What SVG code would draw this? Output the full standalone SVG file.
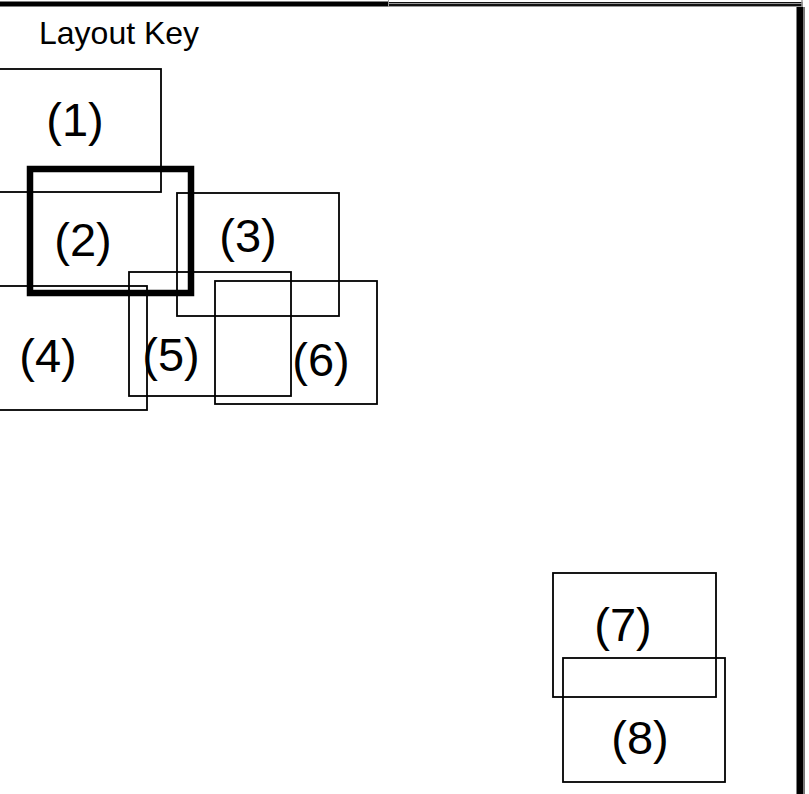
<svg xmlns="http://www.w3.org/2000/svg" width="809" height="794" viewBox="0 0 809 794">
<style>
.box{fill:none;stroke:#000;stroke-width:1.8}
.thick{fill:none;stroke:#000;stroke-width:6.5}
.lbl{font-family:"Liberation Sans",Arial,sans-serif;font-size:47px;fill:#000;text-anchor:middle}
.title{font-family:"Liberation Sans",Arial,sans-serif;font-size:32px;fill:#000}
</style>
<rect width="809" height="794" fill="#fff"/>
<g id="frame">
<rect x="0" y="1.5" width="389" height="5" fill="#000"/>
<rect x="388.5" y="2" width="414" height="5" fill="#111"/>
<line x1="388.5" y1="3.5" x2="802" y2="3.5" stroke="#999" stroke-width="1"/>
<line x1="388.5" y1="6.5" x2="802" y2="6.5" stroke="#999" stroke-width="1"/>
<line x1="388.5" y1="0" x2="388.5" y2="7" stroke="#999" stroke-width="1"/>
<line x1="802" y1="0" x2="802" y2="7" stroke="#999" stroke-width="1.5"/>
<rect x="796.5" y="7" width="7" height="787" fill="#000"/>
<rect x="803.5" y="7" width="1.5" height="787" fill="#777"/>
</g>
<text class="title" x="39" y="44">Layout Key</text>
<g id="node1"><rect class="box" x="-1" y="69" width="162" height="123"/><text class="lbl" x="75" y="136">(1)</text></g>
<g id="node3"><rect class="box" x="177" y="193" width="162" height="123"/><text class="lbl" x="248" y="252">(3)</text></g>
<g id="node4"><rect class="box" x="-15" y="286" width="162" height="124"/><text class="lbl" x="48" y="372">(4)</text></g>
<g id="node5"><rect class="box" x="129" y="272" width="162" height="124"/><text class="lbl" x="171" y="371">(5)</text></g>
<g id="node6"><rect class="box" x="215" y="281" width="162" height="123"/><text class="lbl" x="321" y="376">(6)</text></g>
<g id="node2"><rect class="thick" x="30" y="169" width="161" height="124"/><text class="lbl" x="83" y="256">(2)</text></g>
<g id="node7"><rect class="box" x="553" y="573" width="163" height="124"/><text class="lbl" x="623" y="641">(7)</text></g>
<g id="node8"><rect class="box" x="563" y="658" width="162" height="124"/><text class="lbl" x="640" y="754">(8)</text></g>
<g id="connectors"></g>
</svg>
